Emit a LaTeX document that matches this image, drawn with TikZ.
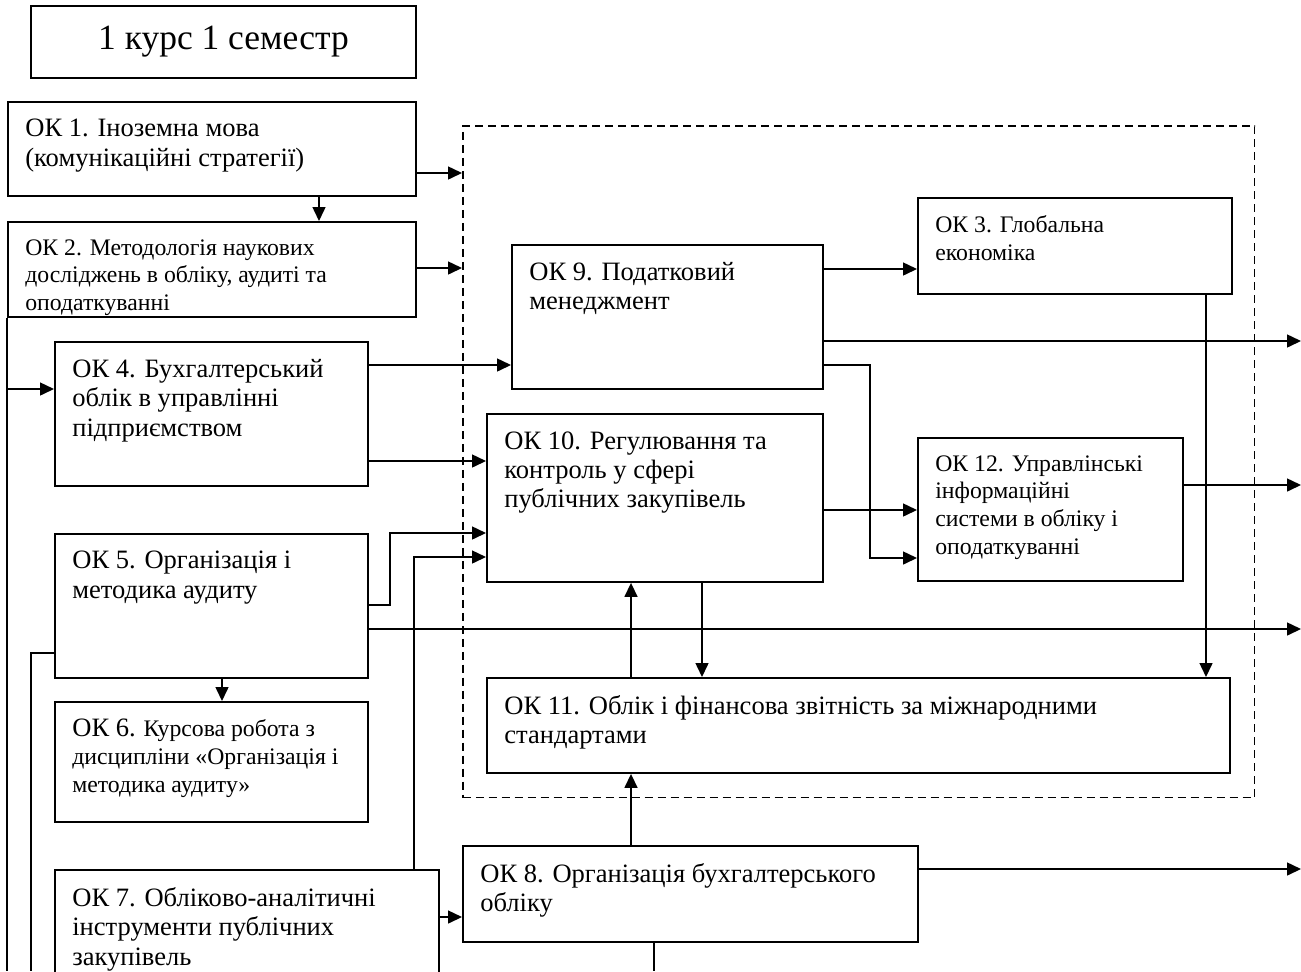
\documentclass[tikz,border=0pt]{standalone}
\usepackage{fontspec}
\setmainfont{Liberation Serif}
\usetikzlibrary{arrows.meta, positioning, calc}

\newcommand{\bigfs}{\fontsize{15.1}{16.7}\selectfont}
\newcommand{\smallfs}{\fontsize{13.5}{15.8}\selectfont}

\begin{document}
\begin{tikzpicture}[
      x=0.02cm, y=-0.02cm,
      okbox/.style={rectangle, draw, line width=1.1pt, anchor=north west},
      oktext/.style={below right, inner xsep=0.36cm, inner ysep=0.36cm,
                     align=left, font=\bigfs},
      core/.style={rectangle, draw, dashed, line width=0.85pt,
                   dash pattern=on 0.16cm off 0.1cm, anchor=north west},
      line/.style={line width=0.85pt},
      arr/.style={line, -{Triangle[length=0.28cm, width=0.26cm]}}
    ]
      \clip (0,0) rectangle (1301,971);
      \coordinate (rim) at (1301,0);
      \coordinate (floor) at (0,971);

      \node[okbox, minimum width=7.7cm, minimum height=1.44cm,
        font=\fontsize{20.2}{24}\selectfont]
        (semester) at (30,5) {1 курс 1 семестр};

      % boxes
      \node[core, minimum width=15.84cm, minimum height=13.44cm]
        (core) at (462,125) {};

      \node[okbox, minimum width=8.16cm, minimum height=1.88cm]
        (ok1) at (7,101) {};
      \node[oktext] (ok1text) at (ok1.north west)
        {ОК 1. Іноземна мова\\(комунікаційні стратегії)};

      \node[okbox, minimum width=8.16cm, minimum height=1.9cm]
        (ok2) at (7,221) {};
      \node[oktext, font=\smallfs] (ok2text) at (ok2.north west)
        {ОК 2. Методологія наукових\\досліджень в обліку, аудиті та\\оподаткуванні};

      \node[okbox, minimum width=6.26cm, minimum height=2.88cm]
        (ok4) at (54,341) {};
      \node[oktext] (ok4text) at (ok4.north west)
        {ОК 4. Бухгалтерський\\облік в управлінні\\підприємством};

      \node[okbox, minimum width=6.26cm, minimum height=2.88cm]
        (ok5) at (54,533) {};
      \node[oktext] (ok5text) at (ok5.north west)
        {ОК 5. Організація і\\методика аудиту};

      \node[okbox, minimum width=6.26cm, minimum height=2.4cm]
        (ok6) at (54,701) {};
      \node[oktext, font=\smallfs] (ok6text) at (ok6.north west)
        {{\bigfs ОК 6.} Курсова робота з\\дисципліни «Організація і\\методика аудиту»};

      \node[okbox, minimum width=7.68cm, minimum height=2.6cm]
        (ok7) at (54,869) {};
      \node[oktext] (ok7text) at (ok7.north west)
        {ОК 7. Обліково-аналітичні\\інструменти публічних\\закупівель};

      \node[okbox, minimum width=9.1cm, minimum height=1.92cm]
        (ok8) at (462,845) {};
      \node[oktext] (ok8text) at (ok8.north west)
        {ОК 8. Організація бухгалтерського\\обліку};

      \node[okbox, minimum width=6.22cm, minimum height=2.88cm]
        (ok9) at (511,244) {};
      \node[oktext] (ok9text) at (ok9.north west)
        {ОК 9. Податковий\\менеджмент};

      \node[okbox, minimum width=6.28cm, minimum height=1.92cm]
        (ok3) at (917,197) {};
      \node[oktext, font=\smallfs] (ok3text) at (ok3.north west)
        {ОК 3. Глобальна\\економіка};

      \node[okbox, minimum width=6.72cm, minimum height=3.36cm]
        (ok10) at (486,413) {};
      \node[oktext] (ok10text) at (ok10.north west)
        {ОК 10. Регулювання та\\контроль у сфері\\публічних закупівель};

      \node[okbox, minimum width=5.3cm, minimum height=2.86cm]
        (ok12) at (917,437) {};
      \node[oktext, font=\smallfs] (ok12text) at (ok12.north west)
        {ОК 12. Управлінські\\інформаційні\\системи в обліку і\\оподаткуванні};

      \node[okbox, minimum width=14.86cm, minimum height=1.9cm]
        (ok11) at (486,677) {};
      \node[oktext] (ok11text) at (ok11.north west)
        {ОК 11. Облік і фінансова звітність за міжнародними\\стандартами};

      % left column
      \draw[arr] (ok1.east |- 0,173) -- (core.west |- 0,173);
      \draw[arr] (ok1.south -| 319,0) -- (ok2.north -| 319,0);
      \draw[arr] (ok2.east |- 0,268) -- (core.west |- 0,268);
      \draw[line] (ok2.south west) -- (ok2.south west |- floor);
      \draw[arr] (ok2.south west |- 0,389) -- (ok4.west |- 0,389);
      \draw[arr] (ok4.east |- 0,365) -- (ok9.west |- 0,365);
      \draw[arr] (ok4.east |- 0,461) -- (ok10.west |- 0,461);
      \draw[arr] (ok5.east |- 0,605) -| (390,533) -- (ok10.west |- 0,533);
      \draw[arr] (ok5.east |- 0,629) -- (rim |- 0,629);
      \draw[line] (ok5.west |- 0,653) -| (floor -| 31,0);
      \draw[arr] (ok5.south -| 222,0) -- (ok6.north -| 222,0);
      \draw[arr] (ok7.north -| 414,0) |- (ok10.west |- 0,557);
      \draw[arr] (ok7.east |- 0,917) -- (ok8.west |- 0,917);

      % bottom
      \draw[arr] (ok8.north -| 631,0) -- (ok11.south -| 631,0);
      \draw[arr] (ok8.east |- 0,869) -- (rim |- 0,869);
      \draw[line] (ok8.south -| 654,0) -- (floor -| 654,0);

      % inside the frame
      \draw[arr] (ok9.east |- 0,269) -- (ok3.west |- 0,269);
      \draw[arr] (ok9.east |- 0,341) -- (rim |- 0,341);
      \draw[arr] (ok9.east |- 0,365) -| (870,558) -- (ok12.west |- 0,558);
      \draw[arr] (ok10.east |- 0,510) -- (ok12.west |- 0,510);
      \draw[arr] (ok12.east |- 0,485) -- (rim |- 0,485);
      \draw[arr] (ok3.south -| 1206,0) -- (ok11.north -| 1206,0);
      \draw[arr] (ok10.south -| 702,0) -- (ok11.north -| 702,0);
      \draw[arr] (ok11.north -| 631,0) -- (ok10.south -| 631,0);
    \end{tikzpicture}
\end{document}
